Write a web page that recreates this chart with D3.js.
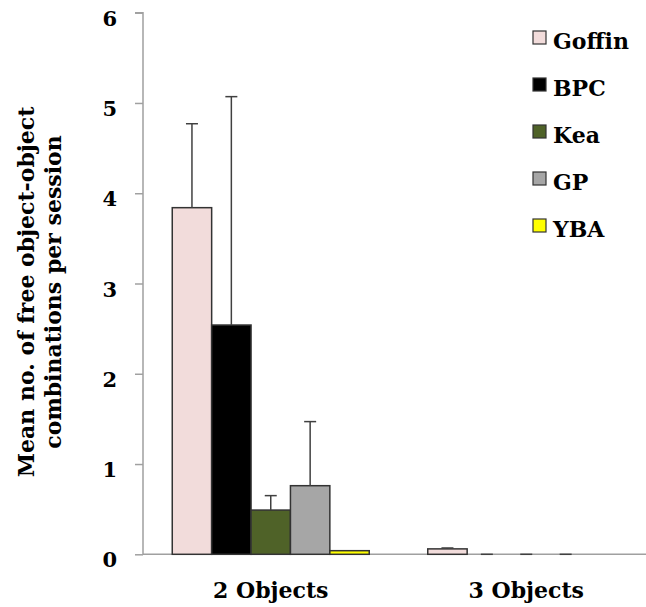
<!DOCTYPE html>
<html>
<head>
<meta charset="utf-8">
<script src="https://cdn.jsdelivr.net/npm/d3@7"></script>
<style>
  body { margin: 0; background: #fff; }
  text { font-family: "DejaVu Serif", serif; font-weight: bold; fill: #000; }
</style>
</head>
<body>
<script>
'use strict';

// categories on the x axis and the species in each group
const categories = ["2 Objects", "3 Objects"];
const species = ["Goffin", "BPC", "Kea", "GP", "YBA"];
const speciesColors = ["#f2dcdb", "#000000", "#4f6228", "#a6a6a6", "#ffff00"];

// mean values per species, one entry per category
const goffinMeans = [3.84, 0.06];
const bpcMeans = [2.54, 0];
const keaMeans = [0.49, 0];
const gpMeans = [0.76, 0];
const ybaMeans = [0.04, 0];

// upper error (standard error added to the mean)
const goffinErr = [0.93, 0.01];
const bpcErr = [2.53, 0];
const keaErr = [0.16, 0];
const gpErr = [0.71, 0];
const ybaErr = [null, null];

const yTicks = [0, 1, 2, 3, 4, 5, 6];
const yLabelLines = ["Mean no. of free object-object", "combinations per session"];

(function() {
  const width = 646, height = 607;
  const svg = d3.select('body').append('svg')
    .attr('width', width)
    .attr('height', height);

  const means = [goffinMeans, bpcMeans, keaMeans, gpMeans, ybaMeans];
  const errs = [goffinErr, bpcErr, keaErr, gpErr, ybaErr];

  // flatten into one row per bar
  let rows = [];
  categories.forEach((c, ci) => {
    species.forEach((s, si) => {
      rows.push({ cat: c, sp: s, color: speciesColors[si], value: means[si][ci], err: errs[si][ci] });
    });
  });

  // scales
  let x0 = d3.scaleBand().domain(categories).range([143, 654])
    .paddingInner(0.229).paddingOuter(0.1145);
  let x1 = d3.scaleBand().domain(species).range([0, x0.bandwidth()]);
  let y = d3.scaleLinear().domain([0, 6]).range([554.3, 12.7]);

  // y axis
  let yAxis = d3.axisLeft(y).tickValues(yTicks).tickSize(8).tickFormat(d3.format('d'));
  let gy = svg.append('g')
    .attr('transform', 'translate(143, 0)')
    .call(yAxis);
  gy.select('.domain').attr('stroke', '#a0a0a0').attr('stroke-width', 1.5)
    .attr('d', 'M-8,' + y(6) + 'H0V' + y(0));
  gy.selectAll('.tick line').attr('stroke', '#a0a0a0').attr('stroke-width', 1.5);
  gy.selectAll('.tick text')
    .attr('x', -26)
    .attr('dy', '0.6em')
    .style('font-size', '21px');

  // x axis line
  svg.append('line')
    .attr('x1', 143).attr('x2', 654)
    .attr('y1', y(0)).attr('y2', y(0))
    .attr('stroke', '#a0a0a0')
    .attr('stroke-width', 1.5);

  // category labels
  svg.selectAll('.cat-label')
    .data(categories)
    .enter()
    .append('text')
      .attr('class', 'cat-label')
      .attr('x', (d) => x0(d) + x0.bandwidth() / 2)
      .attr('y', 598)
      .attr('text-anchor', 'middle')
      .style('font-size', '22px')
      .text((d) => d);

  // bars
  svg.selectAll('.bar')
    .data(rows)
    .enter()
    .append('rect')
      .attr('class', 'bar')
      .attr('x', (d) => x0(d.cat) + x1(d.sp))
      .attr('width', x1.bandwidth())
      .attr('y', (d) => y(d.value))
      .attr('height', (d) => y(0) - y(d.value))
      .attr('fill', (d) => d.color)
      .attr('stroke', (d) => d.value > 0 ? '#333' : 'none')
      .attr('stroke-width', 1.5);

  // error bars (upper only)
  let errRows = rows.filter((d) => d.err !== null);
  let errG = svg.selectAll('.err')
    .data(errRows)
    .enter()
    .append('g')
      .attr('class', 'err')
      .attr('transform', (d) => 'translate(' + (x0(d.cat) + x1(d.sp) + x1.bandwidth() / 2) + ',0)');
  errG.append('line')
    .attr('x1', 0).attr('x2', 0)
    .attr('y1', (d) => y(d.value))
    .attr('y2', (d) => y(d.value + d.err))
    .attr('stroke', '#404040')
    .attr('stroke-width', 1.5);
  errG.append('line')
    .attr('x1', -6).attr('x2', 6)
    .attr('y1', (d) => y(d.value + d.err))
    .attr('y2', (d) => y(d.value + d.err))
    .attr('stroke', '#404040')
    .attr('stroke-width', 1.5);

  // legend
  let legend = svg.selectAll('.legend')
    .data(species)
    .enter()
    .append('g')
      .attr('class', 'legend')
      .attr('transform', (d, i) => 'translate(533,' + (31 + i * 47) + ')');
  legend.append('rect')
    .attr('width', 13).attr('height', 13)
    .attr('fill', (d, i) => speciesColors[i])
    .attr('stroke', '#333')
    .attr('stroke-width', 1.2);
  legend.append('text')
    .attr('x', 20)
    .attr('y', 18)
    .style('font-size', '22px')
    .text((d) => d);

  // y axis title, two rotated lines
  let title = svg.append('text')
    .attr('transform', 'translate(34, 292) rotate(-90)')
    .attr('text-anchor', 'middle')
    .style('font-size', '22px');
  title.selectAll('tspan')
    .data(yLabelLines)
    .enter()
    .append('tspan')
      .attr('x', 0)
      .attr('y', (d, i) => i * 27)
      .text((d) => d);
})();
</script>
</body>
</html>
